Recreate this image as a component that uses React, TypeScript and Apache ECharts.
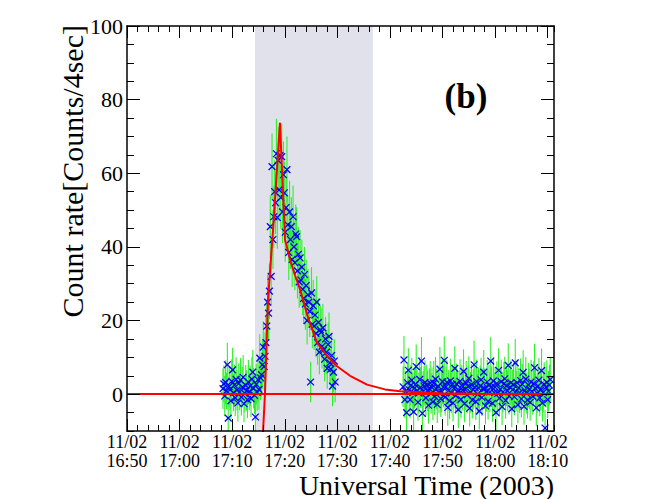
import React, { useEffect, useRef } from "react";
import * as echarts from "echarts";

// ---------- data ----------
const DATE_LABEL = "11/02";
const X_ORIGIN = "16:50:00";
const X_END = "18:11:12";
const X_MAJOR_TICKS = ["16:50", "17:00", "17:10", "17:20", "17:30", "17:40", "17:50", "18:00", "18:10"];
const Y_MAJOR_TICKS = [0, 20, 40, 60, 80, 100];
const Y_MIN = -10;
const Y_MAX = 100;

const SHADE_START = "17:14:20";
const SHADE_END = "17:36:45";

const STEP_SEC = 10;
const SEG1_START = "17:08:15";
const seg1Values = [
  1.5, 2.8, -0.5, 3.2, 0.9, 8.0, -6.5, 2.1, 1.2, -1.8,
  3.5, 6.6, 0.4, 2.5, -1.0, 4.0, 1.1, -2.4, 2.9, 0.6,
  3.8, -0.8, 1.9, 4.6, -2.6, 0.2, 2.4, 1.0, -1.5, 3.3,
  0.7, 2.2, -1.2, 4.1, 6.0, 1.6, -0.3, -6.2, 2.7, 0.5,
  3.9, 1.3, 9.8, 4.4,
  5.3, 8.0, 12.8, 7.5, 10.3, 14.0, 18.5, 25.0, 22.0, 28.0,
  45.5, 32.0, 61.8, 42.0, 48.2, 55.0, 52.0, 65.3, 48.0, 63.5,
  55.5, 64.8, 53.4, 64.5, 49.5, 59.6, 54.7, 44.0, 50.7, 61.0,
  46.0, 38.5, 49.5, 42.0, 45.5, 36.6, 48.2, 40.0, 35.7, 43.5,
  42.8, 33.5, 38.0, 30.5, 37.0, 31.0, 34.5, 28.5, 26.0, 32.5,
  24.5, 29.5, 20.0, 27.0, 25.0, 22.5, 3.3, 27.5, 19.0, 24.0,
  18.5, 21.5, 16.5, 25.0, 14.0, 19.5, 11.4, 17.5, 16.8, 13.0,
  18.0, 12.0, 9.5, 15.0, 11.4, 7.0, 13.5, 15.7, 8.5, 6.8,
  10.5, 2.2, 6.0, 9.0, 3.3,
];
const seg1Errors = [
  5.5, 5, 5.5, 6, 5, 6, 5, 5.5, 5.5, 5,
  6, 6, 5, 5.5, 5, 6, 5.5, 5, 5.5, 5,
  6, 5, 5.5, 6, 5, 5, 5.5, 5.5, 5, 6,
  5, 5.5, 5, 6, 6, 5.5, 5, 5, 5.5, 5,
  6, 5.5, 6.5, 6,
  6, 6.5, 7, 6.5, 6.5, 7, 7, 7.5, 7.5, 7.5,
  8.5, 8, 9, 8, 8.5, 8.5, 8.5, 9.5, 8.5, 9,
  8.5, 9, 8.5, 9, 8.5, 9, 8.5, 8, 8.5, 9,
  8, 7.5, 8.5, 8, 8, 7.5, 8.5, 7.5, 7.5, 8,
  8, 7.5, 7.5, 7, 7.5, 7, 7.5, 7, 7, 7.5,
  7, 7, 6.5, 7, 7, 7, 5.5, 7, 6.5, 7,
  6.5, 7, 6.5, 7, 6, 6.5, 6, 6.5, 6.5, 6,
  6.5, 6, 6, 6, 6, 5.5, 6, 6.5, 6, 5.5,
  6, 5.5, 5.5, 6, 5.5,
];

const SEG2_START = "17:42:30";
const seg2Values = [
  2.0, 9.3, -1.5, 0.8, -5.0, 3.1, 6.5, 1.2, -1.5, 2.4,
  3.8, 0.4, -4.8, 1.6, 2.6, 7.5, 1.0, -2.2, 0.3, 4.0,
  1.8, 9.0, -5.2, 0.8, 2.2, 3.2, -1.0, 2.5, 0.9, -3.0,
  1.5, 3.0, 0.2, 1.8, -2.1, 3.0, -0.6, 4.1, 1.4, -2.8,
  2.2, 0.4, 6.8, -1.2, 0.6, 3.4, 1.9, 9.2, -0.8, 2.0,
  3.2, -3.6, 1.0, -1.8, 3.6, 0.3, 2.6, -2.4, 1.6, 7.0,
  -0.4, 2.8, 0.7, -4.2, 0.9, 3.5, -1.4, 2.4, 1.1, 6.2,
  -2.6, 1.2, 3.0, -0.2, 2.1, 4.3, -3.8, 0.5, 2.6, -1.6,
  1.3, 8.0, 1.8, -2.0, 3.4, 0.0, 1.7, -4.6, 2.2, 3.9,
  -0.9, 1.5, 6.0, 1.5, -3.2, 0.7, 3.3, -1.9, 2.4, 0.6,
  9.0, 2.0, -2.5, 3.6, 0.4, 1.9, -5.0, 2.9, 0.2, 6.5,
  -1.1, 1.3, 3.4, -3.4, 0.6, 2.8, 4.2, -1.7, 2.3, 0.9,
  7.8, -0.5, 1.9, 3.1, -4.0, 1.2, 2.6, -0.7, 8.5, 0.8,
  3.1, -2.9, 1.7, 0.4, 3.7, -1.3, 2.7, 5.9, -3.3, 1.0,
  4.1, 0.2, -1.6, 2.5, 1.4, -2.2, 3.3, 0.8, -0.6, 2.9,
  7.2, 1.6, -3.7, 0.3, 2.2, 3.8, -1.0, 1.1, 6.4, -2.4,
  0.5, 2.7, -9.2, 1.9, 3.2, -1.5, 0.8, 2.5, 4.0,
];
const seg2Errors = [
  5.5, 6.5, 5, 5.5, 5, 5.5, 6, 5.5, 5, 5.5,
  6, 5.5, 5, 5.5, 5.5, 6, 5.5, 5, 5.5, 6,
  5.5, 6.5, 5, 5.5, 5.5, 6, 5, 5.5, 5.5, 5,
  5.5, 6, 5.5, 5.5, 5, 6, 5, 6, 5.5, 5,
  5.5, 5.5, 6, 5, 5.5, 6, 5.5, 6.5, 5, 5.5,
  6, 5, 5.5, 5, 6, 5.5, 5.5, 5, 5.5, 6,
  5, 5.5, 5.5, 5, 5.5, 6, 5, 5.5, 5.5, 6,
  5, 5.5, 6, 5, 5.5, 6, 5, 5.5, 5.5, 5,
  5.5, 6.5, 5.5, 5, 6, 5.5, 5.5, 5, 5.5, 6,
  5, 5.5, 6, 5.5, 5, 5.5, 6, 5, 5.5, 5.5,
  6.5, 5.5, 5, 6, 5.5, 5.5, 5, 6, 5.5, 6,
  5, 5.5, 6, 5, 5.5, 6, 6, 5, 5.5, 5.5,
  6, 5, 5.5, 6, 5, 5.5, 6, 5, 6.5, 5.5,
  6, 5, 5.5, 5.5, 6, 5, 5.5, 6, 5, 5.5,
  6, 5.5, 5, 6, 5.5, 5, 6, 5.5, 5, 6,
  6.5, 5.5, 5, 5.5, 5.5, 6, 5, 5.5, 6, 5,
  5.5, 6, 5, 5.5, 6, 5, 5.5, 5.5, 6,
];

// fitted light curve (time, counts/4sec)
const fitTimes = [
  "17:15:48", "17:16:14", "17:16:49", "17:17:46", "17:18:26", "17:19:05",
  "17:19:34", "17:20:03", "17:21:00", "17:21:57", "17:22:54", "17:24:25",
  "17:26:08", "17:28:02", "17:29:56", "17:32:25", "17:35:38", "17:39:03",
  "17:41:55", "17:49:31", "17:57:08", "18:11:12",
];
const fitValues = [
  -12, 0, 25.7, 44.7, 59, 73.7,
  58, 42, 36.6, 32.3, 28.5, 20.8,
  14, 10.4, 7.6, 5.0, 2.6, 1.3,
  0.8, 0.25, 0.1, 0.05,
];
const BASELINE_VALUE = 0;

// ---------- helpers ----------
const toSec = (s: string) => {
  const p = s.split(":").map(Number);
  return p[0] * 3600 + p[1] * 60 + (p[2] || 0);
};
const ORIGIN_SEC = toSec(X_ORIGIN);
const toMin = (s: string) => (toSec(s) - ORIGIN_SEC) / 60;

const FONT = "'Liberation Serif', 'DejaVu Serif', serif";

export default function App() {
  const ref = useRef<HTMLDivElement>(null);

  useEffect(() => {
    if (!ref.current) return;
    const chart = echarts.init(ref.current, undefined, { renderer: "svg" });

    const xMax = toMin(X_END);
    const xMajor = X_MAJOR_TICKS.map(toMin);

    const seg = (start: string, vals: number[], errs: number[]) =>
      vals.map((v, i) => [toMin(start) + (i * STEP_SEC) / 60, v, errs[i]]);
    const points = [
      ...seg(SEG1_START, seg1Values, seg1Errors),
      ...seg(SEG2_START, seg2Values, seg2Errors),
    ];
    const fit = fitTimes.map((t, i) => [toMin(t), fitValues[i]]);

    const fmtX = (v: number) => {
      const total = ORIGIN_SEC / 60 + Math.round(v);
      const h = Math.floor(total / 60);
      const m = total % 60;
      return `${DATE_LABEL}\n${h}:${String(m).padStart(2, "0")}`;
    };

    const line = { color: "#000", width: 1.5 };
    const tickStyle = { color: "#000", width: 1 };

    const xBase = {
      type: "value",
      min: 0,
      max: xMax,
      splitLine: { show: false },
      z: 10,
    };
    const yBase = {
      type: "value",
      min: Y_MIN,
      max: Y_MAX,
      splitLine: { show: false },
      z: 10,
    };

    chart.setOption({
      animation: false,
      grid: { left: 127, top: 26, width: 427, height: 405 },
      xAxis: [
        {
          ...xBase,
          position: "bottom",
          interval: 10,
          axisLine: { show: true, onZero: false, lineStyle: line },
          axisTick: { show: true, inside: true, length: 12, customValues: xMajor, lineStyle: tickStyle },
          axisLabel: {
            show: true,
            customValues: xMajor,
            formatter: fmtX,
            fontFamily: FONT,
            fontSize: 18,
            lineHeight: 19,
            color: "#000",
            margin: 1,
          },
        },
        {
          ...xBase,
          position: "bottom",
          interval: 2,
          axisLine: { show: false, onZero: false },
          axisTick: { show: true, inside: true, length: 6, lineStyle: tickStyle },
          axisLabel: { show: false },
        },
        {
          ...xBase,
          position: "top",
          interval: 10,
          axisLine: { show: true, onZero: false, lineStyle: line },
          axisTick: { show: true, inside: true, length: 12, customValues: xMajor, lineStyle: tickStyle },
          axisLabel: { show: false },
        },
        {
          ...xBase,
          position: "top",
          interval: 2,
          axisLine: { show: false, onZero: false },
          axisTick: { show: true, inside: true, length: 6, lineStyle: tickStyle },
          axisLabel: { show: false },
        },
      ],
      yAxis: [
        {
          ...yBase,
          position: "left",
          interval: 10,
          axisLine: { show: true, onZero: false, lineStyle: line },
          axisTick: { show: true, inside: true, length: 13, customValues: Y_MAJOR_TICKS, lineStyle: tickStyle },
          axisLabel: {
            show: true,
            customValues: Y_MAJOR_TICKS,
            fontFamily: FONT,
            fontSize: 22,
            color: "#000",
            margin: 4,
          },
        },
        {
          ...yBase,
          position: "left",
          interval: 5,
          axisLine: { show: false, onZero: false },
          axisTick: { show: true, inside: true, length: 7, lineStyle: tickStyle },
          axisLabel: { show: false },
        },
        {
          ...yBase,
          position: "right",
          interval: 10,
          axisLine: { show: true, onZero: false, lineStyle: line },
          axisTick: { show: true, inside: true, length: 13, customValues: Y_MAJOR_TICKS, lineStyle: tickStyle },
          axisLabel: { show: false },
        },
        {
          ...yBase,
          position: "right",
          interval: 5,
          axisLine: { show: false, onZero: false },
          axisTick: { show: true, inside: true, length: 7, lineStyle: tickStyle },
          axisLabel: { show: false },
        },
      ],
      series: [
        {
          name: "interval",
          type: "line",
          xAxisIndex: 0,
          yAxisIndex: 0,
          data: [[toMin(SHADE_START), BASELINE_VALUE]],
          showSymbol: false,
          symbol: "none",
          lineStyle: { opacity: 0 },
          silent: true,
          z: 1,
          markArea: {
            silent: true,
            itemStyle: { color: "#e1e1ec" },
            data: [[{ xAxis: toMin(SHADE_START) }, { xAxis: toMin(SHADE_END) }]],
          },
        },
        {
          name: "errors",
          type: "custom",
          xAxisIndex: 0,
          yAxisIndex: 0,
          clip: true,
          z: 2,
          data: points,
          renderItem: (params: any, api: any) => {
            const x = api.value(0);
            const y = api.value(1);
            const e = api.value(2);
            const a = api.coord([x, y + e]);
            const b = api.coord([x, y - e]);
            return {
              type: "line",
              shape: { x1: a[0], y1: a[1], x2: b[0], y2: b[1] },
              style: { stroke: "#2cf02c", lineWidth: 1.1 },
            };
          },
        },
        {
          name: "counts",
          type: "custom",
          xAxisIndex: 0,
          yAxisIndex: 0,
          clip: true,
          z: 3,
          data: points,
          renderItem: (params: any, api: any) => {
            const p = api.coord([api.value(0), api.value(1)]);
            const s = 3.4;
            const st = { stroke: "#0000ff", lineWidth: 1.25 };
            return {
              type: "group",
              children: [
                { type: "line", shape: { x1: p[0] - s, y1: p[1] - s, x2: p[0] + s, y2: p[1] + s }, style: st },
                { type: "line", shape: { x1: p[0] - s, y1: p[1] + s, x2: p[0] + s, y2: p[1] - s }, style: st },
              ],
            };
          },
        },
        {
          name: "fit",
          type: "line",
          xAxisIndex: 0,
          yAxisIndex: 0,
          data: fit,
          showSymbol: false,
          symbol: "none",
          smooth: false,
          clip: true,
          z: 4,
          lineStyle: { color: "#ff0000", width: 2 },
          markLine: {
            silent: true,
            symbol: ["none", "none"],
            label: { show: false },
            lineStyle: { color: "#ff0000", width: 2, type: "solid" },
            data: [{ yAxis: BASELINE_VALUE }],
          },
        },
      ],
      graphic: [
        {
          type: "text",
          x: 72,
          y: 25,
          rotation: Math.PI / 2,
          style: {
            text: "Count rate[Counts/4sec]",
            font: `30px ${FONT}`,
            fill: "#000",
            align: "right",
            verticalAlign: "middle",
          },
        },
        {
          type: "text",
          x: 554,
          y: 485,
          style: {
            text: "Universal Time (2003)",
            font: `28px ${FONT}`,
            fill: "#000",
            align: "right",
            verticalAlign: "middle",
          },
        },
        {
          type: "text",
          x: 466,
          y: 96,
          style: {
            text: "(b)",
            font: `bold 35px ${FONT}`,
            fill: "#000",
            align: "center",
            verticalAlign: "middle",
          },
        },
      ],
    });

    return () => chart.dispose();
  }, []);

  return (
    <div
      ref={ref}
      style={{ position: "fixed", left: 0, top: 0, width: 665, height: 499, background: "#fff" }}
    />
  );
}
